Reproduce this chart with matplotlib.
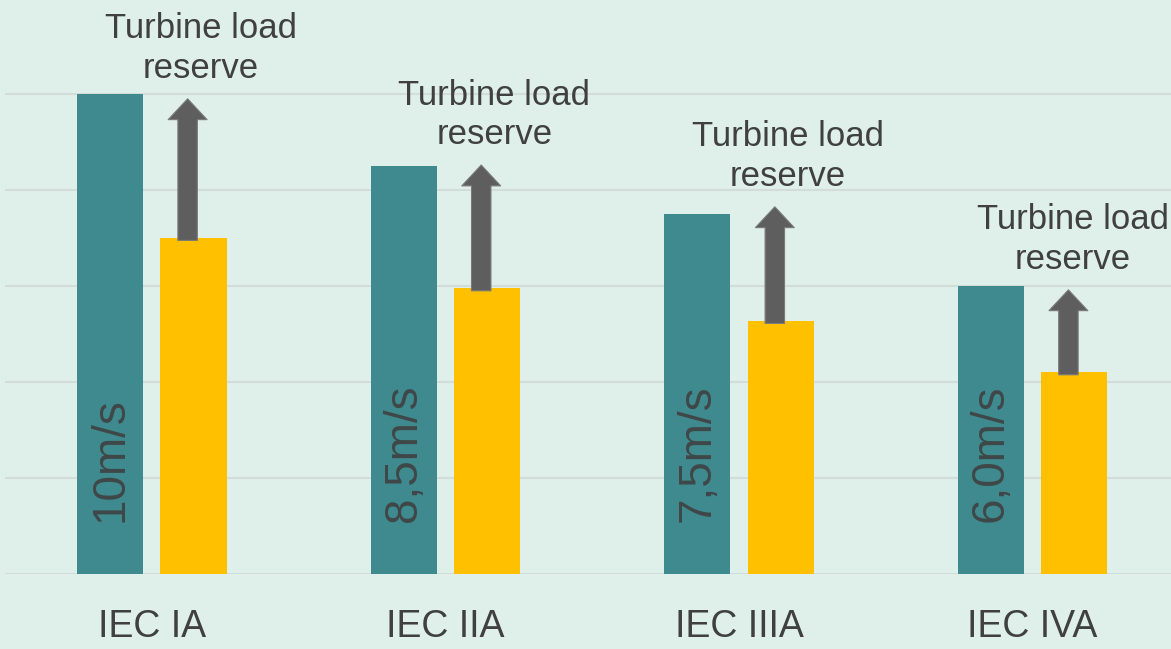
import matplotlib
matplotlib.use("Agg")
import matplotlib.pyplot as plt
import numpy as np

plt.rcParams['font.family'] = ['Liberation Sans', 'DejaVu Sans']

# data
classes = ["IEC IA", "IEC IIA", "IEC IIIA", "IEC IVA"]
wind_speed = [10.0, 8.5, 7.5, 6.0]          # teal bars
wind_labels = ["10m/s", "8,5m/s", "7,5m/s", "6,0m/s"]
turbine_load = [7.0, 5.95, 5.27, 4.2]       # yellow bars
reserve_top = [9.9, 8.52, 7.65, 5.92]       # arrow tips
reserve_label = "Turbine load\nreserve"

bg = '#dff0eb'
teal = '#3e8a8f'
yellow = '#ffc000'
arrow_c = '#5e5e5e'
text_c = '#404040'

fig = plt.figure(figsize=(11.71, 6.49), dpi=100, facecolor=bg)
ax = fig.add_axes([5 / 1171, 75 / 649, 1166 / 1171, 574 / 649])
ax.set_facecolor(bg)

x = np.arange(len(classes))
off = 0.142
w = 0.225
xmax = -0.5 + 1166 / 293.6

ax.bar(x - off, wind_speed, width=w, color=teal, zorder=3)
ax.bar(x + off, turbine_load, width=w, color=yellow, zorder=3)

for i in range(len(classes)):
    ax.text(x[i] - off, 1.08, wind_labels[i], rotation=90, ha='center', va='bottom',
            fontsize=33, color=text_c, alpha=0.9, zorder=4)
    ax.annotate('', xy=(x[i] + off - 0.02, reserve_top[i]),
                xytext=(x[i] + off - 0.02, turbine_load[i] - 0.05),
                arrowprops=dict(arrowstyle='simple,head_length=1.5,head_width=2.8,tail_width=1.4',
                                mutation_scale=10, fc=arrow_c, ec='#7a7a7a', lw=0.8,
                                shrinkA=0, shrinkB=0),
                zorder=4)
    # keep the last label inside the figure
    lx = min(x[i] + off + 0.025, xmax - 0.335)
    ax.annotate(reserve_label, xy=(lx, reserve_top[i]),
                xytext=(0, 10), textcoords='offset points',
                ha='center', va='bottom', fontsize=25, color=text_c,
                linespacing=1.25, annotation_clip=False)

ax.set_xlim(-0.5, xmax)
ax.set_ylim(0, 574 / 48)
ax.set_yticks([0, 2, 4, 6, 8, 10])
ax.yaxis.grid(True, color='#d3dcd9', lw=1.5, zorder=0)
ax.set_yticklabels([])
ax.tick_params(axis='y', length=0)
ax.set_xticks(x)
ax.set_xticklabels(classes, fontsize=27, color=text_c)
ax.tick_params(axis='x', length=0, pad=25)
for s in ax.spines.values():
    s.set_visible(False)

fig.savefig('out.png', dpi=100, facecolor=bg)
